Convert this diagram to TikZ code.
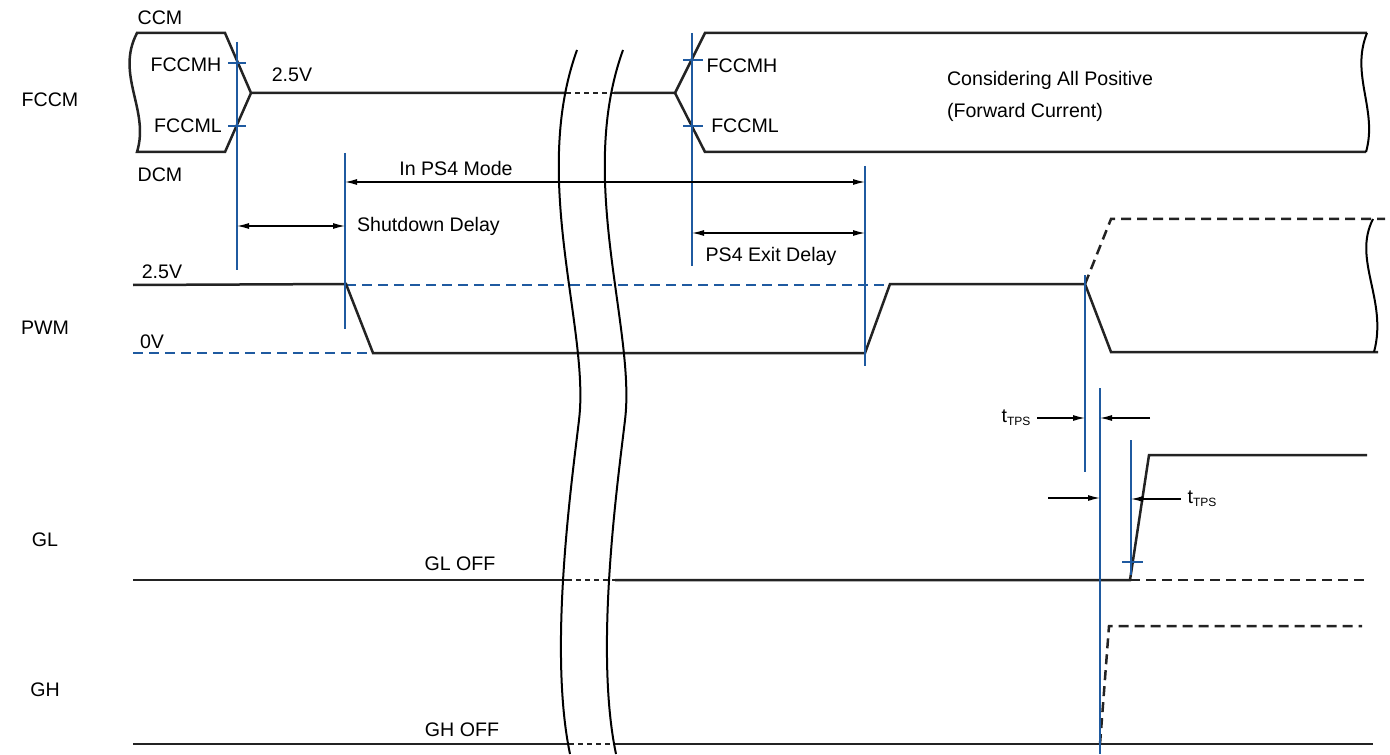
\documentclass[tikz,border=0pt]{standalone}
\usepackage{fontspec}
\setmainfont{Liberation Sans}
\usetikzlibrary{arrows.meta}
\definecolor{markblue}{RGB}{31,90,160}
\definecolor{wave}{RGB}{35,35,35}
\newcommand{\ttps}{t\raisebox{-0.25ex}{\fontsize{6}{7}\selectfont TPS}}

\begin{document}
\begin{tikzpicture}[x=0.5pt, y=-0.5pt,
    every node/.style={font=\fontsize{9.8}{12}\selectfont},
    sig/.style={wave, line width=1.25pt, line join=miter},
    sigdash/.style={sig, dash pattern=on 5pt off 3pt},
    brkgap/.style={sig, dash pattern=on 2.5pt off 2pt},
    brk/.style={black, line width=1pt},
    markline/.style={markblue, line width=0.75pt},
    reflevel/.style={markblue, line width=0.75pt, dash pattern=on 5pt off 3pt},
    spanarrow/.style={black, line width=0.6pt, {Latex[length=6pt,width=3pt]}-{Latex[length=6pt,width=3pt]}},
    tiparrow/.style={black, line width=0.6pt, -{Latex[length=6pt,width=3pt]}}]
    \useasboundingbox (0,0) rectangle (1390,754);

    % row names
    \node (lfccm) at (50,100) {FCCM};
    \node (lpwm) at (45,328) {PWM};
    \node (lgl) at (45,540) {GL};
    \node (lgh) at (45,690) {GH};

    % FCCM
    \draw[sig] (251,93) -- (225,33) -- (137,33)
        .. controls (115,75) and (150,110) .. (137,152) -- (225,152) -- (251,93) -- (566,93);
    \draw[brkgap] (566,93) -- (614,93);
    \draw[sig] (614,93) -- (675,93) -- (705,33) -- (1367,33);
    \draw[sig] (675,93) -- (705,152) -- (1366,152);
    \draw[brk] (1367,33) .. controls (1350,75) and (1378,110) .. (1366,152);

    \node (ccm) at (160,18) {CCM};
    \node (dcm) at (160,175) {DCM};
    \node (fhl) at (186,65) {FCCMH};
    \node (fll) at (188,126) {FCCML};
    \node (fhr) at (742,66) {FCCMH};
    \node (flr) at (745,126) {FCCML};
    \node (vfccm) at (292,75) {2.5V};
    \node[anchor=west] (pos) at (940,80) {Considering All Positive};
    \node[anchor=west] (fwd) at (940,112) {(Forward Current)};

    % PWM
    \draw[reflevel] (133,353) -- (373,353);
    \draw[reflevel] (346,285) -- (885,285);
    \draw[sig] (133,285) -- (346,284) -- (373,353) -- (865,353) -- (890,284)
        -- (1085,284) -- (1111,352) -- (1378,352);
    \draw[sigdash] (1085,284) -- (1111,219) -- (1385,219);
    \draw[brk] (1373,219) .. controls (1352,260) and (1388,300) .. (1374,352);
    \node (vhi) at (162,272) {2.5V};
    \node (vlo) at (152,342) {0V};

    % GL
    \draw[sig] (133,580) -- (567,580);
    \draw[brkgap] (567,580) -- (615,580);
    \draw[sig] (615,580) -- (1130,580) -- (1149,455) -- (1367,455);
    \draw[sigdash] (1130,580) -- (1367,580);
    \node (gloff) at (460,564) {GL OFF};

    % GH
    \draw[sig] (133,744) -- (569,744);
    \draw[brkgap] (569,744) -- (615,744);
    \draw[sig] (615,744) -- (1373,744);
    \draw[sigdash] (1100,744) -- (1109,626) -- (1362,626);
    \node (ghoff) at (462,730) {GH OFF};

    % time break
    \foreach \dx in {0,46}
        \draw[brk] (577+\dx,50) .. controls (530+\dx,180) and (590+\dx,330) .. (579+\dx,420)
            .. controls (572+\dx,480) and (548+\dx,650) .. (570+\dx,754);

    % markers
    \foreach \name/\x/\ya/\yb in {mfccm/237/42/270, mshut/345/153/329, mexit/692/33/266,
            mpwm/865/166/366, mgl/1085/275/472, mgh/1100/388/754, mrise/1131/440/575}
        \draw[markline] (\x,\ya) coordinate (\name) -- (\x,\yb);
    \foreach \y in {63,126}
        \draw[markline] (228,\y) -- (246,\y);
    \foreach \y in {60,126}
        \draw[markline] (683,\y) -- (703,\y);
    \draw[markline] (1122,562) -- (1143,562);

    % delays
    \path (0,226) coordinate (ysd) (0,182) coordinate (yps4) (0,233) coordinate (yexit);
    \draw[spanarrow] (mfccm |- ysd) -- (mshut |- ysd);
    \node[anchor=west] (sdl) at (350,226) {Shutdown Delay};
    \draw[spanarrow] (mshut |- yps4) -- (mpwm |- yps4);
    \node (ps4) at (456,168) {In PS4 Mode};
    \draw[spanarrow] (mexit |- yexit) -- (mpwm |- yexit);
    \node (exitl) at (771,256) {PS4 Exit Delay};

    % tTPS
    \node (tps1) at (1016,418) {\ttps};
    \coordinate (tps1r) at (1150,418);
    \draw[tiparrow] (tps1.east) -- (mgl |- tps1);
    \draw[tiparrow] (tps1r) -- (mgh |- tps1r);
    \node (tps2) at (1202,499) {\ttps};
    \coordinate (tps2l) at (1048,498);
    \draw[tiparrow] (tps2l) -- (mgh |- tps2l);
    \draw[tiparrow] (tps2.west) -- (mrise |- tps2);
\end{tikzpicture}
\end{document}
